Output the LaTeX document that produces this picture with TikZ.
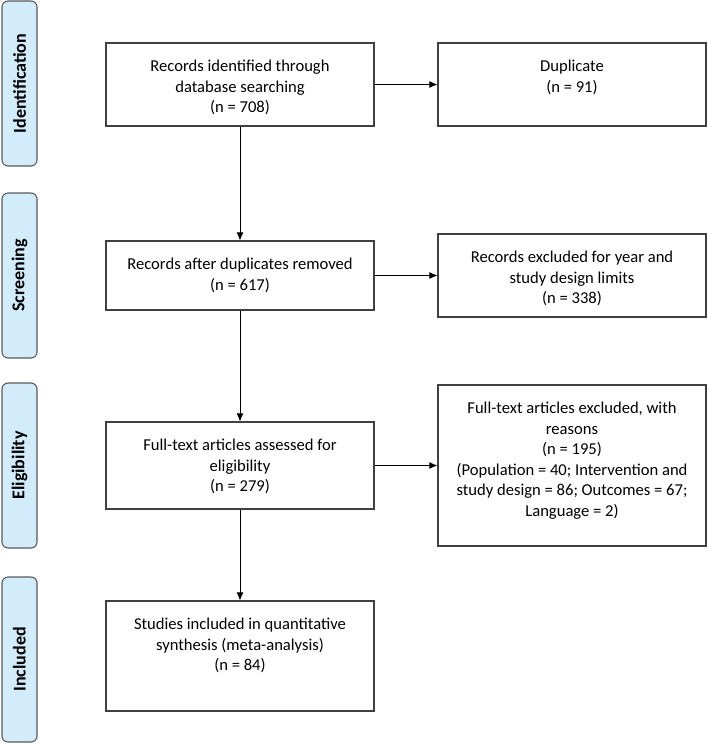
\documentclass[tikz,border=0pt]{standalone}
\usepackage{fontspec}
\setmainfont{Carlito}
\usetikzlibrary{arrows.meta}
\definecolor{sidefill}{HTML}{D2ECFC}
\definecolor{sidedraw}{HTML}{5A5A5A}
\definecolor{boxdraw}{HTML}{404040}
\newcommand\flowtext[2]{\parbox[c][#1][t]{268pt}{\centering\rule{0pt}{28.5pt}#2}}
\tikzset{
  flowbox/.style={draw=boxdraw, line width=1.1pt, rectangle, inner sep=0pt, font=\fontsize{16.6}{20.6}\selectfont},
  sidebox/.style={draw=sidedraw, fill=sidefill, line width=1.1pt, rounded corners=6pt, rotate=90,
    minimum width=165pt, minimum height=35pt, inner sep=0pt, font=\fontsize{18}{20}\selectfont\bfseries},
  arr/.style={-{Latex[length=8pt,width=7pt]}, line width=0.9pt, black}
}
\begin{document}
\begin{tikzpicture}[x=1pt,y=-1pt]
\useasboundingbox (0,0) rectangle (708,745);
% side labels
\node[sidebox] (sid) at (19.5,83.5) {Identification};
\node[sidebox] (sscr) at (19.5,275.5) {Screening};
\node[sidebox] (sel) at (19.5,465.5) {Eligibility};
\node[sidebox] (sinc) at (19.5,659.5) {Included};
% boxes
\node[flowbox] (b1) at (240,84.5) {\flowtext{83pt}{Records identified through\\database searching\\(n = 708)}};
\node[flowbox] (b2) at (572,84.5) {\flowtext{83pt}{Duplicate\\(n = 91)}};
\node[flowbox] (b3) at (240,275.5) {\flowtext{69pt}{Records after duplicates removed\\(n = 617)}};
\node[flowbox] (b4) at (572,275.5) {\flowtext{83pt}{Records excluded for year and\\study design limits\\(n = 338)}};
\node[flowbox] (b5) at (240,465.5) {\flowtext{87pt}{Full-text articles assessed for\\eligibility\\(n = 279)}};
\node[flowbox] (b6) at (572,465.5) {\flowtext{161pt}{Full-text articles excluded, with\\reasons\\(n = 195)\\(Population = 40; Intervention and\\study design = 86; Outcomes = 67;\\Language = 2)}};
\node[flowbox] (b7) at (240,656) {\flowtext{110pt}{Studies included in quantitative\\synthesis (meta-analysis)\\(n = 84)}};
% connectors
\draw[arr] (b1) -- (b2);
\draw[arr] (b1) -- (b3);
\draw[arr] (b3) -- (b4);
\draw[arr] (b3) -- (b5);
\draw[arr] (b5) -- (b6);
\draw[arr] (b5) -- (b7);
\end{tikzpicture}
\end{document}
